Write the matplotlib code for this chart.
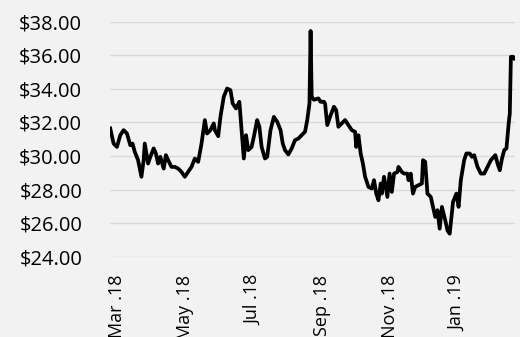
import matplotlib
matplotlib.use("Agg")
import matplotlib.pyplot as plt
import pandas as pd

# ---------------------------------------------------------------- data
dates = [
    "2018-02-23", "2018-02-26", "2018-03-01", "2018-03-04", "2018-03-07", "2018-03-10",
    "2018-03-13", "2018-03-15", "2018-03-17", "2018-03-20", "2018-03-23", "2018-03-25",
    "2018-03-26", "2018-03-29", "2018-03-31", "2018-04-03", "2018-04-05", "2018-04-07",
    "2018-04-09", "2018-04-12", "2018-04-14", "2018-04-16", "2018-04-19", "2018-04-22",
    "2018-04-25", "2018-04-28", "2018-05-01", "2018-05-04", "2018-05-07", "2018-05-10",
    "2018-05-13", "2018-05-16", "2018-05-19", "2018-05-21", "2018-05-24", "2018-05-27",
    "2018-05-28", "2018-05-31", "2018-06-02", "2018-06-05", "2018-06-08", "2018-06-11",
    "2018-06-13", "2018-06-16", "2018-06-19", "2018-06-21", "2018-06-23", "2018-06-25",
    "2018-06-27", "2018-06-30", "2018-07-02", "2018-07-05", "2018-07-07", "2018-07-09",
    "2018-07-12", "2018-07-14", "2018-07-17", "2018-07-20", "2018-07-23", "2018-07-26",
    "2018-07-28", "2018-07-30", "2018-08-02", "2018-08-05", "2018-08-08", "2018-08-11",
    "2018-08-14", "2018-08-17", "2018-08-19", "2018-08-21", "2018-08-22", "2018-08-23",
    "2018-08-25", "2018-08-29", "2018-08-31", "2018-09-03", "2018-09-04", "2018-09-06",
    "2018-09-09", "2018-09-12", "2018-09-14", "2018-09-16", "2018-09-19", "2018-09-22",
    "2018-09-25", "2018-09-28", "2018-10-01", "2018-10-02", "2018-10-04", "2018-10-06",
    "2018-10-08", "2018-10-10", "2018-10-13", "2018-10-16", "2018-10-18", "2018-10-20",
    "2018-10-22", "2018-10-24", "2018-10-25", "2018-10-27", "2018-10-30", "2018-11-01",
    "2018-11-03", "2018-11-05", "2018-11-08", "2018-11-09", "2018-11-12", "2018-11-14",
    "2018-11-17", "2018-11-18", "2018-11-20", "2018-11-22", "2018-11-24", "2018-11-27",
    "2018-11-30", "2018-12-01", "2018-12-03", "2018-12-05", "2018-12-08", "2018-12-10",
    "2018-12-12", "2018-12-14", "2018-12-16", "2018-12-18", "2018-12-21", "2018-12-23",
    "2018-12-25", "2018-12-28", "2018-12-31", "2019-01-02", "2019-01-04", "2019-01-07",
    "2019-01-09", "2019-01-12", "2019-01-14", "2019-01-16", "2019-01-19", "2019-01-22",
    "2019-01-25", "2019-01-28", "2019-01-31", "2019-02-04", "2019-02-06", "2019-02-08",
    "2019-02-10", "2019-02-12", "2019-02-14", "2019-02-16", "2019-02-17", "2019-02-18",
    "2019-02-20", "2019-02-21",
]
prices = [
    31.64, 30.74, 30.54, 31.24, 31.54, 31.34,
    30.64, 30.74, 30.25, 29.75, 28.76, 29.75,
    30.74, 29.55, 29.95, 30.45, 30.15, 29.55,
    29.95, 29.25, 30.05, 29.75, 29.35, 29.35,
    29.25, 29.05, 28.76, 29.05, 29.35, 29.85,
    29.65, 30.74, 32.14, 31.34, 31.54, 31.94,
    31.54, 31.18, 32.33, 33.53, 34.02, 33.92,
    33.13, 32.83, 33.23, 31.54, 29.85, 31.24,
    30.35, 30.54, 31.14, 32.14, 31.74, 30.54,
    29.85, 29.95, 31.54, 32.33, 32.04, 31.54,
    30.74, 30.35, 30.09, 30.45, 30.94, 31.04,
    31.24, 31.44, 32.14, 33.13, 37.45, 33.53,
    33.35, 33.43, 33.23, 33.23, 33.13, 31.84,
    32.43, 32.93, 32.73, 31.74, 31.94, 32.14,
    31.84, 31.54, 31.44, 30.54, 31.24, 30.15,
    29.55, 28.76, 28.16, 28.06, 28.56, 27.76,
    27.36, 28.36, 27.76, 28.76, 27.56, 28.95,
    27.86, 28.95, 29.05, 29.35, 29.05, 28.95,
    28.95, 28.56, 28.95, 27.76, 28.16, 28.26,
    28.36, 29.75, 29.65, 27.76, 27.56, 26.97,
    26.37, 26.77, 25.67, 26.97, 26.17, 25.57,
    25.37, 27.26, 27.76, 26.97, 28.56, 29.75,
    30.15, 30.15, 29.95, 30.05, 29.35, 28.95,
    28.95, 29.35, 29.75, 30.05, 29.55, 29.15,
    29.85, 30.35, 30.45, 31.94, 32.53, 35.91,
    35.91, 35.81,
]
tick_dates = ["2018-03-01", "2018-05-01", "2018-07-01", "2018-09-01", "2018-11-01", "2019-01-01"]
tick_labels = ["Mar .18", "May .18", "Jul .18", "Sep .18", "Nov .18", "Jan .19"]
y_ticks = [24, 26, 28, 30, 32, 34, 36, 38]

x = pd.to_datetime(dates)

# ---------------------------------------------------------------- plot
plt.rcParams["font.family"] = ["Open Sans", "DejaVu Sans"]
BG = "#F2F2F2"

fig = plt.figure(figsize=(5.2, 3.37), dpi=100, facecolor=BG)
ax = fig.add_axes([0.2115, 0.2383, 0.7785, 0.6973], facecolor=BG)

ax.plot(x, prices, color="black", lw=2.7, solid_joinstyle="round", zorder=3)

ax.set_ylim(24, 38)
ax.set_yticks(y_ticks)
ax.set_yticklabels([f"${v:.2f}" for v in y_ticks], fontsize=14.5)
ax.set_xlim(pd.Timestamp("2018-02-22 18:00"), pd.Timestamp("2019-02-21 12:00"))
ax.set_xticks(pd.to_datetime(tick_dates))
ax.set_xticklabels(tick_labels, rotation=90, va="top", ha="center", fontsize=13)

ax.grid(axis="y", color="#D9D9D9", lw=1.0, zorder=0)
ax.grid(axis="x", visible=False)
for s in ax.spines.values():
    s.set_visible(False)
ax.tick_params(axis="both", length=0, colors="black")
ax.tick_params(axis="y", pad=20)
ax.tick_params(axis="x", pad=13)

fig.savefig("out.png", dpi=100, facecolor=BG)
